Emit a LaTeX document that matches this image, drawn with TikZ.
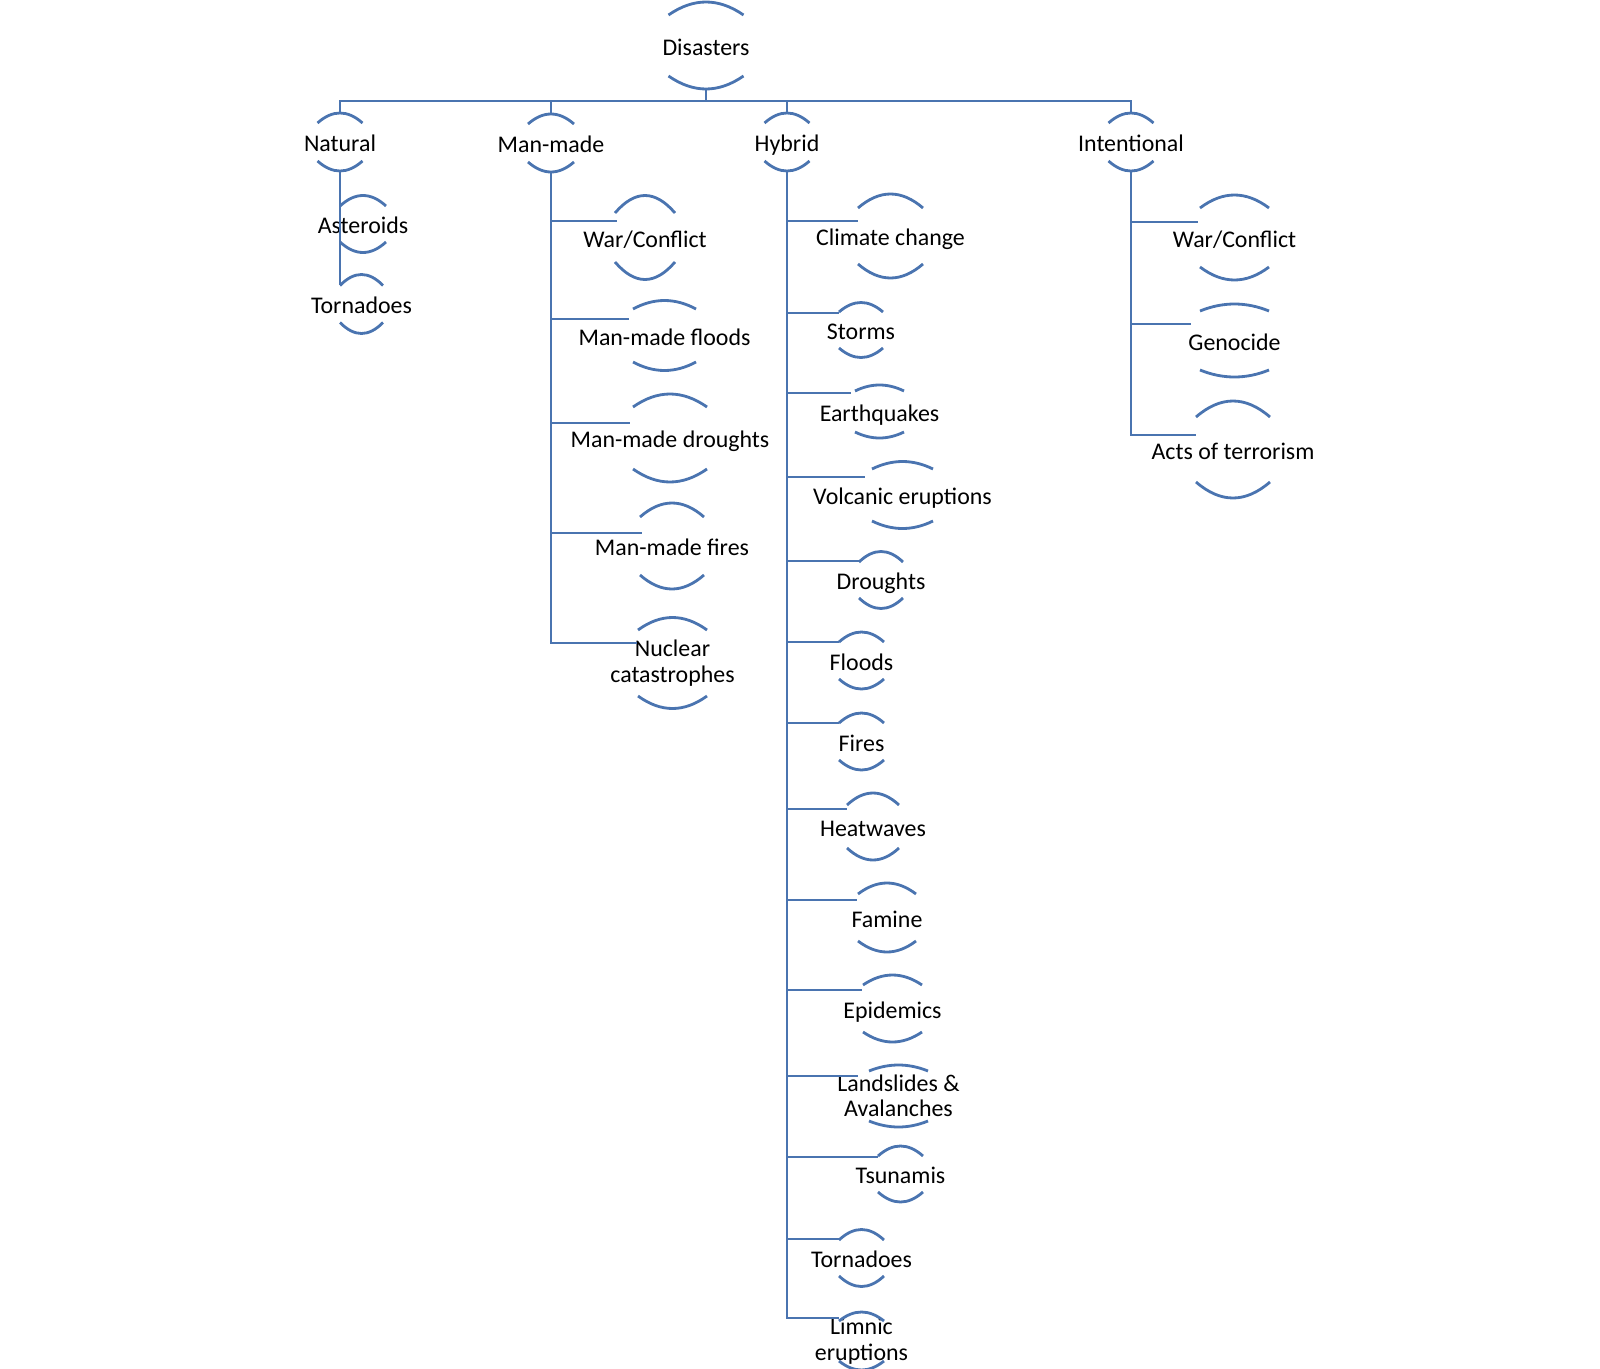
\documentclass[tikz,border=0pt]{standalone}
\usepackage{fontspec}
\setmainfont{Carlito}
\usetikzlibrary{calc}
\definecolor{archblue}{RGB}{74,116,176}
\tikzset{
  lbl/.style={font=\fontsize{13.6}{14.5}\selectfont, inner sep=0pt},
  one/.style={lbl, text height=12pt, text depth=1pt},
  two/.style={lbl, align=center},
  arch/.style={archblue, line width=1.6pt},
  link/.style={archblue, line width=1.6pt},
}
% node name, half width, offset from centre, sag
\newcommand{\archpair}[4]{
  \draw[arch] ($(#1)+(-#2,-#3)$) .. controls ($(#1)+(-#2/3,-#3-4*#4/3)$) and ($(#1)+(#2/3,-#3-4*#4/3)$) .. ($(#1)+(#2,-#3)$);
  \draw[arch] ($(#1)+(-#2,#3)$) .. controls ($(#1)+(-#2/3,#3+4*#4/3)$) and ($(#1)+(#2/3,#3+4*#4/3)$) .. ($(#1)+(#2,#3)$);
  \coordinate (#1-t) at ($(#1)+(0,-#3-#4)$);
  \coordinate (#1-b) at ($(#1)+(0,#3+#4)$);
}

\begin{document}
\begin{tikzpicture}[x=0.02cm,y=-0.02cm]
  \useasboundingbox (0,0) rectangle (1600,1369);

  \node[one] (dis) at (706,45.5) {Disasters};          \archpair{dis}{37.5}{30.5}{13}
  \node[one] (nat) at (340,142) {Natural};             \archpair{nat}{22.5}{19}{10}
  \node[one] (man) at (551,143) {Man-made};            \archpair{man}{23}{19}{10}
  \node[one] (hyb) at (787,142) {Hybrid};              \archpair{hyb}{22.5}{19}{10}
  \node[one] (int) at (1131,142) {Intentional};        \archpair{int}{22.5}{19}{10}

  \node[one] (ast) at (363,224) {Asteroids};           \archpair{ast}{23}{18}{10.5}
  \node[one] (ntor) at (361.5,304) {Tornadoes};        \archpair{ntor}{21.5}{18.5}{11}

  \node[one] (mwar) at (645,237.5) {War/Conflict};     \archpair{mwar}{30}{24.5}{17.5}
  \node[one] (mflo) at (664.5,335.5) {Man-made floods}; \archpair{mflo}{31.5}{26.5}{8.5}
  \node[one] (mdro) at (670,438) {Man-made droughts};  \archpair{mdro}{37}{31}{13}
  \node[one] (mfir) at (672,546) {Man-made fires};     \archpair{mfir}{32}{29}{14}
  \node[two] (mnuc) at (672.5,663) {Nuclear\\catastrophes}; \archpair{mnuc}{34.5}{33}{12.5}

  \node[one] (hcli) at (890.5,236) {Climate change};   \archpair{hcli}{32.5}{28}{14}
  \node[one] (hsto) at (861,330) {Storms};             \archpair{hsto}{22}{18}{9.5}
  \node[one] (hear) at (879.5,411.5) {Earthquakes};    \archpair{hear}{24.5}{20.5}{6}
  \node[one] (hvol) at (902.5,495) {Volcanic eruptions}; \archpair{hvol}{30.5}{26}{7.5}
  \node[one] (hdro) at (881,580) {Droughts};           \archpair{hdro}{22}{18}{10.5}
  \node[one] (hflo) at (861.5,660.5) {Floods};         \archpair{hflo}{22.5}{18.5}{10}
  \node[one] (hfir) at (861.5,741.5) {Fires};          \archpair{hfir}{22.5}{18.5}{10}
  \node[one] (hhea) at (873,826.5) {Heatwaves};        \archpair{hhea}{26}{21.5}{12}
  \node[one] (hfam) at (887,917.5) {Famine};           \archpair{hfam}{29}{23.5}{11}
  \node[one] (hepi) at (892.5,1008.5) {Epidemics};     \archpair{hepi}{29.5}{23.5}{10}
  \node[two] (hlan) at (898.5,1096) {Landslides \&\\Avalanches}; \archpair{hlan}{29.5}{25}{6}
  \node[one] (htsu) at (900.5,1174) {Tsunamis};        \archpair{htsu}{22.5}{18}{10}
  \node[one] (htor) at (861.5,1258) {Tornadoes};       \archpair{htor}{22.5}{18}{10.5}
  \node[two] (hlim) at (861.5,1341) {Limnic\\eruptions}; \archpair{hlim}{22.5}{20}{9}

  \node[one] (iwar) at (1234.5,237.5) {War/Conflict};  \archpair{iwar}{34.5}{29.5}{13}
  \node[one] (igen) at (1234.5,340.5) {Genocide};      \archpair{igen}{34.5}{29.5}{7}
  \node[one] (iact) at (1233,449.5) {Acts of terrorism}; \archpair{iact}{37}{32.5}{16}

  % bus under the root
  \coordinate (bus) at (0,101);
  \draw[link] (dis-b) -- (dis-b |- bus);
  \draw[link] (nat-t) |- (bus -| int-t) -- (int-t);
  \draw[link] (man-t) -- (man-t |- bus);
  \draw[link] (hyb-t) -- (hyb-t |- bus);

  \coordinate (ast-in) at (340,206);
  \coordinate (ntor-in) at (340,285);
  \draw[link] (nat-b) |- (ast-in);
  \draw[link] (nat-b) |- (ntor-in);

  \coordinate (mwar-in) at (617,221);
  \coordinate (mflo-in) at (629,319);
  \coordinate (mdro-in) at (630,423);
  \coordinate (mfir-in) at (642,533);
  \coordinate (mnuc-in) at (637,643);
  \foreach \c in {mwar,mflo,mdro,mfir,mnuc}
    \draw[link] (man-b) |- (\c-in);

  \coordinate (hcli-in) at (858,221);
  \coordinate (hsto-in) at (839,313);
  \coordinate (hear-in) at (851,393);
  \coordinate (hvol-in) at (865,477);
  \coordinate (hdro-in) at (859,561);
  \coordinate (hflo-in) at (839,642);
  \coordinate (hfir-in) at (839,723);
  \coordinate (hhea-in) at (847,809);
  \coordinate (hfam-in) at (857,900);
  \coordinate (hepi-in) at (862,990);
  \coordinate (hlan-in) at (858,1076);
  \coordinate (htsu-in) at (878,1157);
  \coordinate (htor-in) at (839,1239);
  \coordinate (hlim-in) at (839,1318);
  \foreach \c in {hcli,hsto,hear,hvol,hdro,hflo,hfir,hhea,hfam,hepi,hlan,htsu,htor,hlim}
    \draw[link] (hyb-b) |- (\c-in);

  \coordinate (iwar-in) at (1198,222);
  \coordinate (igen-in) at (1191,324);
  \coordinate (iact-in) at (1196,435);
  \foreach \c in {iwar,igen,iact}
    \draw[link] (int-b) |- (\c-in);
\end{tikzpicture}
\end{document}
